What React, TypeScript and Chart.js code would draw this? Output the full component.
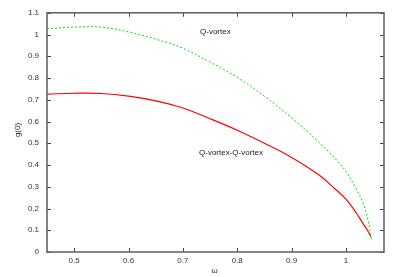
import React, { useEffect, useRef } from "react";
import { Chart, registerables } from "chart.js";

Chart.register(...registerables);

const omegaQ = [0.45, 0.5, 0.55, 0.6, 0.65, 0.7, 0.75, 0.8, 0.85, 0.9, 0.95, 0.98, 1.0, 1.02, 1.03, 1.04, 1.047];
const gQ = [1.027, 1.034, 1.034, 1.012, 0.979, 0.937, 0.873, 0.803, 0.716, 0.617, 0.505, 0.43, 0.37, 0.285, 0.232, 0.152, 0.055];
const omegaQQ = [0.45, 0.5, 0.55, 0.6, 0.65, 0.7, 0.75, 0.8, 0.85, 0.9, 0.95, 0.98, 1.0, 1.02, 1.03, 1.04, 1.046];
const gQQ = [0.726, 0.73, 0.729, 0.717, 0.695, 0.662, 0.613, 0.56, 0.5, 0.435, 0.355, 0.29, 0.243, 0.176, 0.137, 0.098, 0.07];
const xTicks = [0.5, 0.6, 0.7, 0.8, 0.9, 1.0];
const yTicks = [0, 0.1, 0.2, 0.3, 0.4, 0.5, 0.6, 0.7, 0.8, 0.9, 1.0, 1.1];
const labelQ = "Q-vortex";
const labelQQ = "Q-vortex-Q-vortex";
const xTitle = "ω";
const yTitle = "g(0)";

const FONT = "'Liberation Sans', Arial, sans-serif";

const framePlugin = {
  id: "frame",
  afterDraw(chart: any) {
    const { ctx, chartArea: a, scales } = chart;
    const xs = scales.x;
    const ys = scales.y;
    ctx.save();
    ctx.strokeStyle = "#444";
    ctx.lineWidth = 1;
    const tl = 4;
    xTicks.forEach((v) => {
      const px = Math.round(xs.getPixelForValue(v)) + 0.5;
      ctx.beginPath();
      ctx.moveTo(px, a.bottom);
      ctx.lineTo(px, a.bottom - tl);
      ctx.moveTo(px, a.top);
      ctx.lineTo(px, a.top + tl);
      ctx.stroke();
    });
    yTicks.forEach((v) => {
      const py = Math.round(ys.getPixelForValue(v)) + 0.5;
      ctx.beginPath();
      ctx.moveTo(a.left, py);
      ctx.lineTo(a.left + tl, py);
      ctx.moveTo(a.right, py);
      ctx.lineTo(a.right - tl, py);
      ctx.stroke();
    });
    ctx.strokeStyle = "#666";
    ctx.lineWidth = 1.6;
    ctx.strokeRect(a.left, a.top, a.right - a.left, a.bottom - a.top);
    ctx.fillStyle = "#222";
    ctx.font = "8px " + FONT;
    ctx.textBaseline = "middle";
    ctx.textAlign = "left";
    ctx.fillText(labelQ, 200, 32);
    ctx.fillText(labelQQ, 199, 153);
    ctx.textAlign = "center";
    ctx.fillText(xTitle, (a.left + a.right) / 2 - 1, 271);
    ctx.translate(18, 130);
    ctx.rotate(-Math.PI / 2);
    ctx.fillText(yTitle, 0, 0);
    ctx.restore();
  },
};

export default function App() {
  const ref = useRef<HTMLCanvasElement>(null);
  useEffect(() => {
    const chart = new Chart(ref.current!, {
      type: "line",
      data: {
        datasets: [
          {
            label: labelQ,
            data: omegaQ.map((x, i) => ({ x, y: gQ[i] })),
            borderColor: "#00dd00",
            borderWidth: 1,
            borderDash: [2, 2],
            pointRadius: 0,
            tension: 0.4,
            fill: false,
          },
          {
            label: labelQQ,
            data: omegaQQ.map((x, i) => ({ x, y: gQQ[i] })),
            borderColor: "#ff0000",
            borderWidth: 1.2,
            pointRadius: 0,
            tension: 0.4,
            fill: false,
          },
        ],
      },
      options: {
        animation: false,
        responsive: false,
        maintainAspectRatio: false,
        layout: { padding: { left: 0, top: 10, right: 12, bottom: 0 } },
        plugins: { legend: { display: false }, tooltip: { enabled: false } },
        scales: {
          x: {
            type: "linear",
            min: 0.45,
            max: 1.07,
            grid: { display: false, drawTicks: false },
            border: { display: false },
            afterBuildTicks: (s: any) => {
              s.ticks = xTicks.map((v) => ({ value: v }));
            },
            afterFit: (s: any) => {
              s.height = 25;
            },
            ticks: {
              padding: 4,
              color: "#333",
              font: { family: FONT, size: 8 },
              maxRotation: 0,
              callback: (v: any) => String(Number(v)),
            },
          },
          y: {
            type: "linear",
            min: 0,
            max: 1.1,
            grid: { display: false, drawTicks: false },
            border: { display: false },
            afterBuildTicks: (s: any) => {
              s.ticks = yTicks.map((v) => ({ value: v }));
            },
            afterFit: (s: any) => {
              s.width = 47;
            },
            ticks: {
              padding: 8,
              color: "#333",
              font: { family: FONT, size: 8 },
              callback: (v: any) => String(Number(v)),
            },
          },
        },
      },
      plugins: [framePlugin],
    });
    return () => chart.destroy();
  }, []);
  return (
    <div style={{ position: "fixed", left: 0, top: 0, width: 396, height: 277, background: "#fff" }}>
      <canvas ref={ref} width={396} height={277} style={{ width: 396, height: 277, display: "block" }} />
    </div>
  );
}
